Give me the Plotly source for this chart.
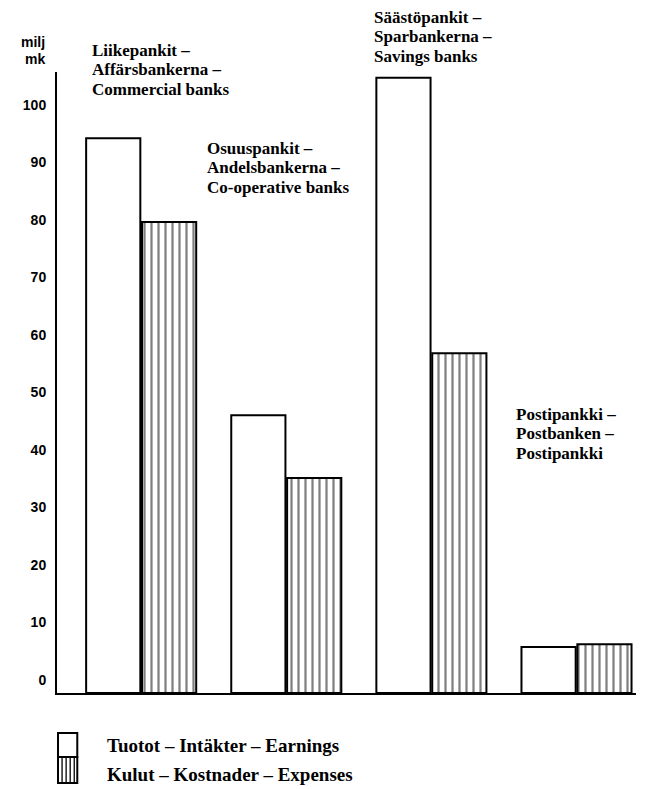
import plotly.graph_objects as go

# data (milj mk)
banks = ["Liikepankit", "Osuuspankit", "Säästöpankit", "Postipankki"]
earnings = [96.5, 48.3, 107.0, 8.0]
expenses = [81.9, 37.4, 59.1, 8.5]
yticks = [0, 10, 20, 30, 40, 50, 60, 70, 80, 90, 100]

bank_labels = [
    ["Liikepankit –", "Affärsbankerna –", "Commercial banks"],
    ["Osuuspankit –", "Andelsbankerna –", "Co-operative banks"],
    ["Säästöpankit –", "Sparbankerna –", "Savings banks"],
    ["Postipankki –", "Postbanken –", "Postipankki"],
]
legend_labels = ["Tuotot – Intäkter – Earnings", "Kulut – Kostnader – Expenses"]

serif = dict(family="Liberation Serif, Times New Roman, serif", size=17, color="black")
sans = dict(family="Liberation Sans, Arial, sans-serif", size=14, color="black",
            weight="bold")

fig = go.Figure()
fig.add_trace(go.Bar(x=banks, y=earnings, name=legend_labels[0],
                     marker=dict(color="white", line=dict(color="black", width=2))))
fig.add_trace(go.Bar(x=banks, y=expenses, name=legend_labels[1],
                     marker=dict(color="white", line=dict(color="black", width=2),
                                 pattern=dict(shape="|", size=7, solidity=0.32,
                                              fgcolor="black", bgcolor="white",
                                              fillmode="overlay"))))

# page body has 8px margin, so the figure is 8px smaller each way
W, H = 571, 621
def px(x):
    return (x - 57) / W
def py(y):
    return (693 - y) / H

# group captions: (pixel shift from category centre, first line centre in window px)
cap_pos = [(-50, 50), (-80, 148), (-58, 17), (-62, 414)]
for i, lines in enumerate(bank_labels):
    for k, line in enumerate(lines):
        fig.add_annotation(x=i, xshift=cap_pos[i][0], yref="paper",
                           y=py(cap_pos[i][1] + 19.5 * k),
                           text="<b>" + line + "</b>", borderpad=0,
                           showarrow=False, xanchor="left", yanchor="middle",
                           font=serif)

for line, xx, yy in [("milj", 46, 42), ("mk", 46, 59)]:
    fig.add_annotation(xref="paper", yref="paper", x=px(xx), y=py(yy),
                       text=line, showarrow=False, xanchor="right", yanchor="middle",
                       borderpad=0,
                       font=dict(family="Liberation Sans, Arial, sans-serif", size=14,
                                 color="black", weight="bold"))

# legend drawn like the original
fig.add_shape(type="rect", xref="paper", yref="paper", x0=px(58), x1=px(77),
              y0=py(757), y1=py(733), line=dict(color="black", width=2))
fig.add_shape(type="rect", xref="paper", yref="paper", x0=px(58), x1=px(77),
              y0=py(783), y1=py(757), line=dict(color="black", width=2))
for xx in [62, 66, 70, 74]:
    fig.add_shape(type="line", xref="paper", yref="paper", x0=px(xx), x1=px(xx),
                  y0=py(783), y1=py(757), line=dict(color="black", width=1.3))
for txt, yy in zip(legend_labels, [745, 774]):
    fig.add_annotation(xref="paper", yref="paper", x=px(104), y=py(yy),
                       text="<b>" + txt + "</b>",
                       showarrow=False, xanchor="left", yanchor="middle",
                       font=dict(serif, size=19))

fig.update_layout(
    width=640, height=781,
    margin=dict(l=49, r=12, t=64, b=96),
    plot_bgcolor="white", paper_bgcolor="white",
    barmode="group", bargap=0.23, bargroupgap=0.03,
    showlegend=False,
)
fig.update_xaxes(range=[-0.58, 3.41], showticklabels=False, showgrid=False,
                 showline=True, linecolor="black", linewidth=2, ticks="", zeroline=False)
fig.update_yaxes(range=[0, 108], tickvals=yticks, tickfont=sans, showgrid=False,
                 showline=True, linecolor="black", linewidth=2, ticks="", zeroline=False,
                 ticklabelshift=-13, ticklabelstandoff=6)

fig.write_html("out.html")
